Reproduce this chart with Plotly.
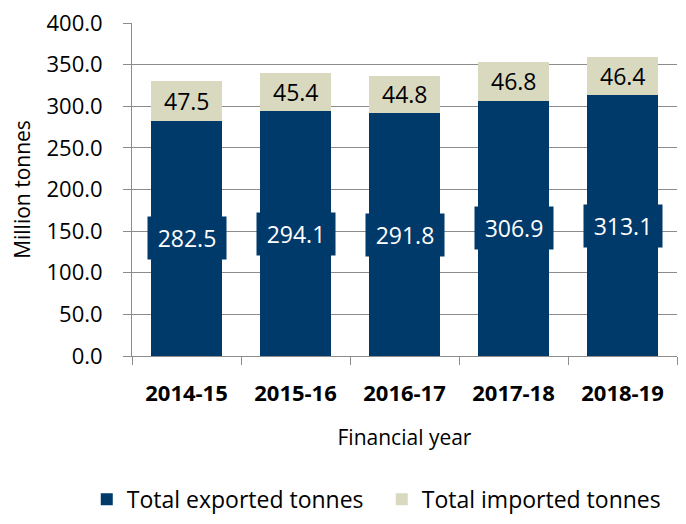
import plotly.graph_objects as go

years = ["2014-15", "2015-16", "2016-17", "2017-18", "2018-19"]
exported = [282.5, 294.1, 291.8, 306.9, 313.1]
imported = [47.5, 45.4, 44.8, 46.8, 46.4]

NAVY = "#003a6b"
BEIGE = "#d9d9c0"
FONT = "Open Sans"

fig = go.Figure()
fig.add_trace(go.Bar(x=years, y=exported, name="Total exported tonnes",
                     marker=dict(color=NAVY, line=dict(width=0))))
fig.add_trace(go.Bar(x=years, y=imported, name="Total imported tonnes",
                     marker=dict(color=BEIGE, line=dict(width=0))))

annotations = []
for yr, e, i in zip(years, exported, imported):
    annotations.append(dict(x=yr, y=e / 2, xref="x", yref="y", text=f"{e:.1f}",
                            showarrow=False, bgcolor=NAVY, width=76, height=40,
                            font=dict(family=FONT, size=23, color="white")))
    annotations.append(dict(x=yr, y=e + i / 2, xref="x", yref="y", text=f"{i:.1f}",
                            showarrow=False,
                            font=dict(family=FONT, size=23, color="black")))

fig.update_layout(
    barmode="stack",
    bargap=0.34,
    width=686, height=524,
    margin=dict(l=124, r=17, t=15, b=163),
    paper_bgcolor="white", plot_bgcolor="white",
    font=dict(family=FONT, size=21, color="black"),
    showlegend=True,
    legend=dict(orientation="h", x=-0.083, xanchor="left", y=-0.43, yanchor="middle",
                font=dict(family=FONT, size=23), itemwidth=30, entrywidth=250,
                traceorder="normal"),
    annotations=annotations,
    xaxis=dict(type="category", showline=True, linecolor="#8c8c8c", linewidth=1,
               ticks="outside", tickson="boundaries", ticklen=8, tickcolor="#8c8c8c",
               tickfont=dict(family=FONT, size=22, weight="bold"), ticklabelstandoff=18,
               title=dict(text="Financial year", font=dict(family=FONT, size=21), standoff=23),
               showgrid=False, automargin=False),
    yaxis=dict(range=[0, 400], dtick=50, tickformat=".1f", showline=True,
               linecolor="#8c8c8c", linewidth=1, ticks="outside", ticklen=8,
               tickcolor="#8c8c8c", showgrid=True, gridcolor="#8c8c8c", gridwidth=1,
               tickfont=dict(family=FONT, size=22), zeroline=False, ticklabelstandoff=16,
               ticklabeloverflow="allow", automargin=False,
               title=dict(text="Million tonnes", font=dict(family=FONT, size=21), standoff=14)),
)

fig.write_html("out.html")
